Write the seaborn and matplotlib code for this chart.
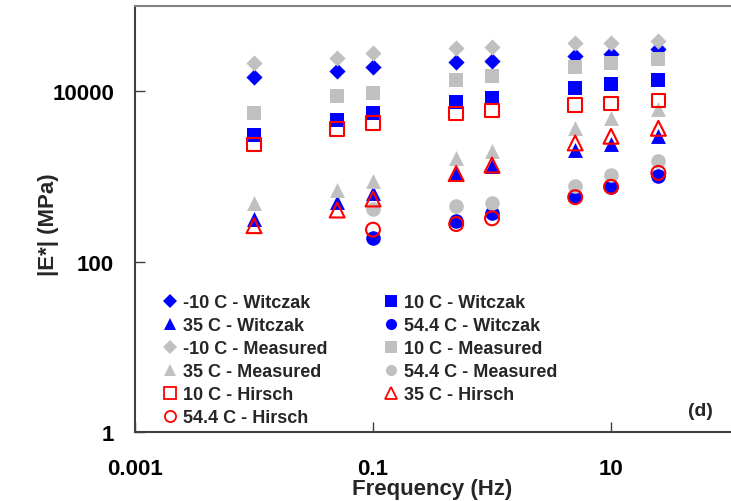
import matplotlib
matplotlib.use("Agg")
import matplotlib.pyplot as plt
import seaborn as sns
import numpy as np
import pandas as pd

# Frequencies (Hz)
freq_all = [0.01, 0.05, 0.1, 0.5, 1, 5, 10, 25]
freq_hot = [0.1, 0.5, 1, 5, 10, 25]

# Witczak predictions (MPa)
wit_m10 = [14800, 17400, 19100, 22200, 22800, 26100, 27300, 31300]
wit_10 = [3060, 4590, 5550, 7400, 8320, 10800, 12200, 13500]
wit_35 = [316, 497, 634, 1067, 1313, 2040, 2400, 3000]
wit_54 = [188, 297, 369, 584, 745, 1020]

# Measured (MPa)
mea_m10 = [21400, 24300, 28100, 31900, 32700, 36800, 36800, 39200]
mea_10 = [5550, 8850, 9600, 13500, 15200, 19100, 21200, 23900]
mea_35 = [483, 698, 876, 1630, 2000, 3670, 4810, 6180]
mea_54 = [414, 446, 487, 778, 1040, 1530]

# Hirsch predictions (MPa)
hir_10 = [2380, 3600, 4230, 5500, 5900, 6890, 7210, 7740]
hir_35 = [264, 403, 543, 1080, 1360, 2470, 2960, 3670]
hir_54 = [237, 276, 322, 570, 755, 1100]

sns.set_style("ticks")
plt.rcParams["font.family"] = ["Liberation Sans", "DejaVu Sans"]
plt.rcParams["font.weight"] = "bold"

fig = plt.figure(figsize=(7.31, 5.02), dpi=100)
ax = fig.add_axes([135 / 731, (502 - 433) / 502, 595 / 731, 426 / 502])

BLUE = "#0000ff"
GRAY = "#c0c0c0"
RED = "#ff0000"

series = [
    ("-10 C - Witczak", freq_all, wit_m10, "D", BLUE, True, 68),
    ("10 C - Witczak", freq_all, wit_10, "s", BLUE, True, 105),
    ("35 C - Witczak", freq_all, wit_35, "^", BLUE, True, 115),
    ("54.4 C - Witczak", freq_hot, wit_54, "o", BLUE, True, 110),
    ("-10 C - Measured", freq_all, mea_m10, "D", GRAY, True, 68),
    ("10 C - Measured", freq_all, mea_10, "s", GRAY, True, 105),
    ("35 C - Measured", freq_all, mea_35, "^", GRAY, True, 115),
    ("54.4 C - Measured", freq_hot, mea_54, "o", GRAY, True, 110),
    ("10 C - Hirsch", freq_all, hir_10, "s", RED, False, 95),
    ("35 C - Hirsch", freq_all, hir_35, "^", RED, False, 115),
    ("54.4 C - Hirsch", freq_hot, hir_54, "o", RED, False, 100),
]

handles = {}
for label, fx, fy, mk, col, filled, size in series:
    df = pd.DataFrame({"f": fx, "E": fy})
    if filled:
        sns.scatterplot(data=df, x="f", y="E", marker=mk, color=col, s=size,
                        edgecolor=col, linewidth=0, ax=ax, legend=False)
    else:
        sns.scatterplot(data=df, x="f", y="E", marker=mk, color=col, s=size,
                        facecolor="none", edgecolor=col, linewidth=1.5,
                        ax=ax, legend=False)
    coll = ax.collections[-1]
    if not filled:
        coll.set_facecolor("none")
        coll.set_edgecolor(col)
    handles[label] = plt.Line2D([], [], linestyle="none", marker=mk,
                                markersize=8 if mk != "D" else 7,
                                markerfacecolor=col if filled else "none",
                                markeredgecolor=col,
                                markeredgewidth=0 if filled else 1.3)

ax.set_xscale("log")
ax.set_yscale("log")
ax.set_xlim(0.001, 100)
ax.set_ylim(1, 100000)

ax.set_xticks([0.001, 0.1, 10], ["0.001", "0.1", "10"])
ax.set_yticks([1, 100, 10000], ["1", "100", "10000"])
ax.minorticks_off()
ax.tick_params(axis="both", direction="in", length=7, width=1,
               labelsize=16, colors="#404040", labelcolor="black")
ax.tick_params(axis="x", pad=19)
ax.tick_params(axis="y", pad=15)
for t in ax.get_xticklabels() + ax.get_yticklabels():
    t.set_fontweight("bold")

ax.set_xlabel("Frequency (Hz)", fontsize=16, fontweight="bold")
ax.set_ylabel("|E*| (MPa)", fontsize=16, fontweight="bold")
ax.xaxis.set_label_coords(0.499, -0.108)
ax.yaxis.set_label_coords(-0.128, 0.488)

ax.spines["right"].set_visible(False)
ax.spines["top"].set_color("#808080")
ax.spines["top"].set_linewidth(1.5)
for s in ["left", "bottom"]:
    ax.spines[s].set_color("#404040")
    ax.spines[s].set_linewidth(1.5)

order = ["-10 C - Witczak", "35 C - Witczak", "-10 C - Measured",
         "35 C - Measured", "10 C - Hirsch", "54.4 C - Hirsch",
         "10 C - Witczak", "54.4 C - Witczak", "10 C - Measured",
         "54.4 C - Measured", "35 C - Hirsch"]
leg = ax.legend([handles[k] for k in order], order, ncol=2,
                loc="upper left", bbox_to_anchor=(0.035, 0.34),
                frameon=False, fontsize=13, handlelength=0.8,
                handletextpad=0.3, columnspacing=3.14, labelspacing=0.33,
                borderaxespad=0)
for t in leg.get_texts():
    t.set_fontweight("bold")

ax.text(0.95, 0.05, "(d)", transform=ax.transAxes, fontsize=14,
        fontweight="bold", ha="center", va="center")

fig.savefig("out.png", dpi=100)
